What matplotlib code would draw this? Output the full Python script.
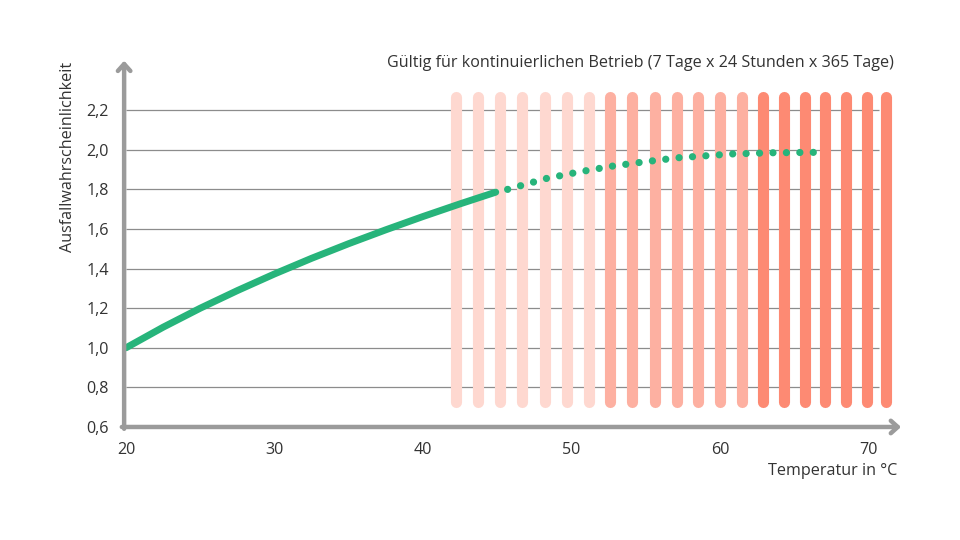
import numpy as np
import matplotlib
matplotlib.use("Agg")
import matplotlib.pyplot as plt

plt.rcParams['font.family'] = ['Open Sans', 'DejaVu Sans']

# Failure probability curve (solid = measured, dotted = extrapolated)
temp_solid = [20, 22.5, 25, 27.5, 30, 32.5, 35, 37.5, 40, 42.5, 44.9]
prob_solid = [1.0, 1.104, 1.20, 1.289, 1.373, 1.452, 1.526, 1.596, 1.663, 1.727, 1.786]

temp_dotted = [45.7, 48.3, 50.5, 52.8, 55.0, 57.2, 60.8, 63.5, 66.3]
prob_dotted = [1.80, 1.855, 1.888, 1.918, 1.94, 1.96, 1.979, 1.985, 1.987]

# Background stripes, three heat zones
stripes_light = [42.2, 43.7, 45.2, 46.7, 48.2, 49.7, 51.2]
stripes_mid = [52.6, 54.1, 55.6, 57.1, 58.5, 60.0, 61.5]
stripes_dark = [62.9, 64.3, 65.7, 67.1, 68.5, 69.9, 71.2]
stripe_bottom = 0.725
stripe_top = 2.265

x_ticks = [20, 30, 40, 50, 60, 70]
y_ticks = [0.6, 0.8, 1.0, 1.2, 1.4, 1.6, 1.8, 2.0, 2.2]

title = "Gültig für kontinuierlichen Betrieb (7 Tage x 24 Stunden x 365 Tage)"
x_label = "Temperatur in °C"
y_label = "Ausfallwahrscheinlichkeit"

text_color = "#333333"
axis_color = "#9b9b9b"
green = "#27b47b"
fsize = 11.6

fig = plt.figure(figsize=(9.6, 5.4), dpi=100)
ax = fig.add_axes([0.1293, 0.2093, 0.8093, 0.6783])
ax.set_xlim(19.87, 72.2)
ax.set_ylim(0.6, 2.45)

# grid lines
ax.hlines(y_ticks[1:], 20, 70.7, color="#8c8c8c", lw=0.9, zorder=1)

# stripes
for xs, col in [(stripes_light, "#fed8d0"), (stripes_mid, "#fdb0a1"), (stripes_dark, "#fd8a73")]:
    ax.vlines(xs, stripe_bottom, stripe_top, colors=col, lw=8, capstyle="round", zorder=2)

# curve
ax.plot(temp_solid, prob_solid, color=green, lw=5, solid_capstyle="round",
        solid_joinstyle="round", zorder=4)
ax.plot(temp_dotted, prob_dotted, color=green, lw=5.2, linestyle=(0, (0.01, 1.85)),
        dash_capstyle="round", zorder=4)

# axes with arrows
for s in ax.spines.values():
    s.set_visible(False)
ax.annotate("", xy=(1.0, 0), xytext=(-0.003, 0), xycoords="axes fraction",
            arrowprops=dict(arrowstyle="->,head_length=0.5,head_width=0.45",
                            color=axis_color, lw=3.2, shrinkA=0, shrinkB=0), zorder=5)
ax.annotate("", xy=(0, 1.0), xytext=(0, -0.005), xycoords="axes fraction",
            arrowprops=dict(arrowstyle="->,head_length=0.5,head_width=0.45",
                            color=axis_color, lw=3.2, shrinkA=0, shrinkB=0), zorder=5)

ax.set_xticks(x_ticks)
ax.set_xticklabels([str(t) for t in x_ticks])
ax.set_yticks(y_ticks)
ax.set_yticklabels([f"{t:.1f}".replace(".", ",") for t in y_ticks])
ax.tick_params(axis="both", length=0, labelsize=fsize, colors=text_color)
ax.tick_params(axis="x", pad=11)
ax.tick_params(axis="y", pad=11)

fig.text(894 / 960, 1 - 63 / 540, title, ha="right", va="center", fontsize=fsize, color=text_color)
fig.text(897 / 960, 1 - 471 / 540, x_label, ha="right", va="center", fontsize=fsize, color=text_color)
fig.text(68 / 960, 1 - 157 / 540, y_label, ha="center", va="center", rotation=90,
         fontsize=fsize, color=text_color)

fig.savefig("out.png", dpi=100, facecolor="white")
